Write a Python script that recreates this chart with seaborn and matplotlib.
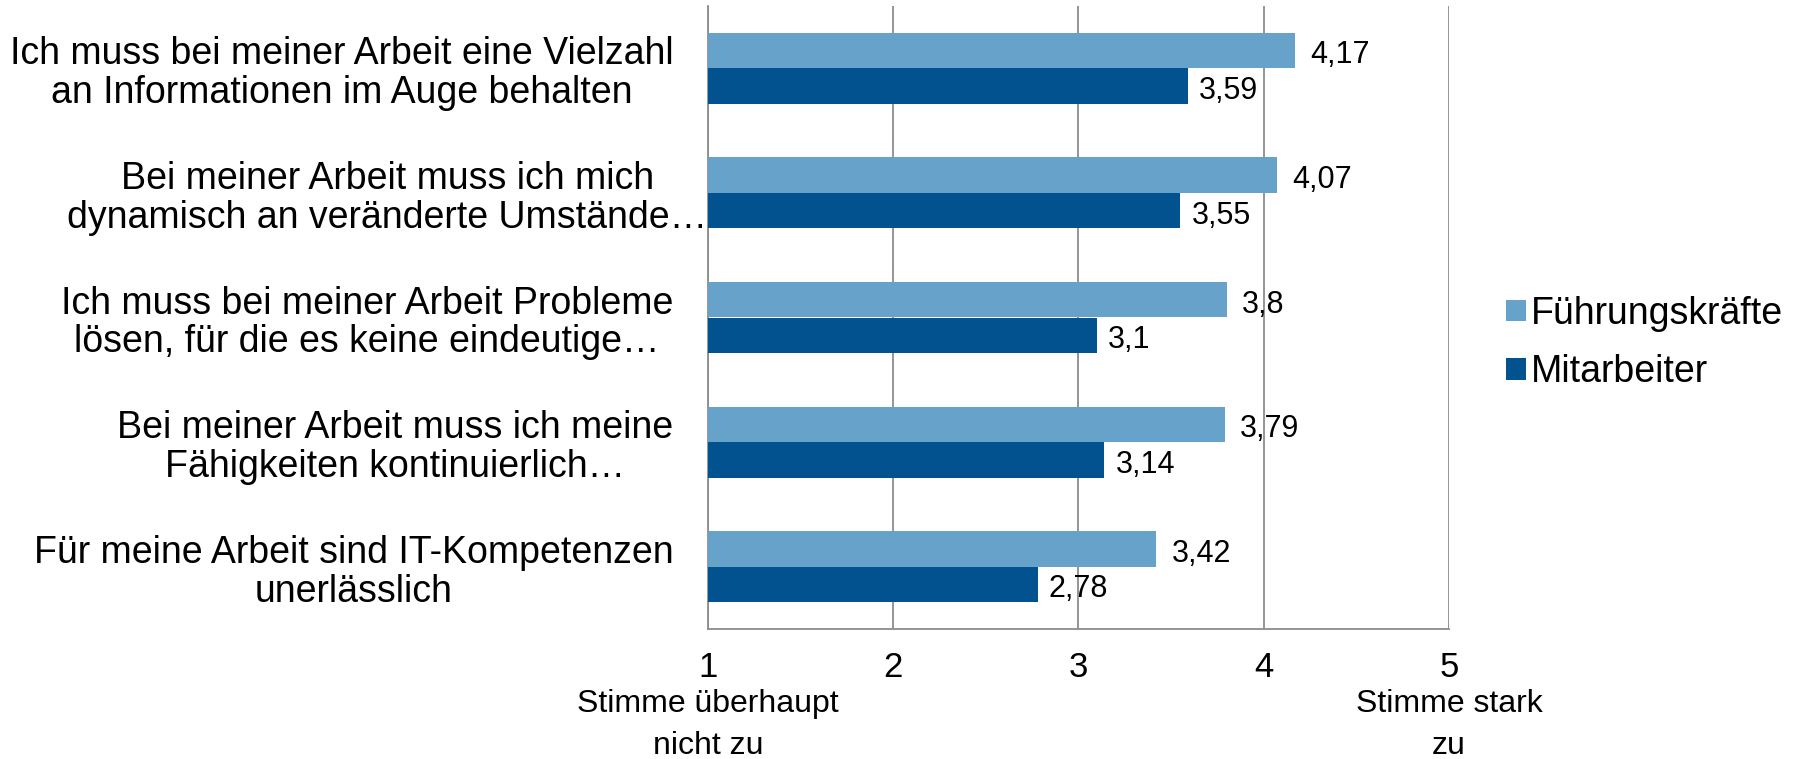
import matplotlib
matplotlib.use("Agg")
import matplotlib.pyplot as plt
import matplotlib.transforms as mtransforms
from matplotlib.patches import Patch
import seaborn as sns
import pandas as pd

# ---- data ----
categories = [
    "Ich muss bei meiner Arbeit eine Vielzahl\nan Informationen im Auge behalten",
    "Bei meiner Arbeit muss ich mich\ndynamisch an veränderte Umstände…",
    "Ich muss bei meiner Arbeit Probleme\nlösen, für die es keine eindeutige…",
    "Bei meiner Arbeit muss ich meine\nFähigkeiten kontinuierlich…",
    "Für meine Arbeit sind IT-Kompetenzen\nunerlässlich",
]
series_names = ["Führungskräfte", "Mitarbeiter"]
fuehrung = [4.17, 4.07, 3.8, 3.79, 3.42]
mitarbeiter = [3.59, 3.55, 3.1, 3.14, 2.78]
x_ticks = [1, 2, 3, 4, 5]
x_tick_labels = ["1", "2", "3", "4", "5"]
scale_low = "Stimme überhaupt\nnicht zu"
scale_high = "Stimme stark\nzu"

colors = ["#66A2CA", "#02528F"]
grid_col = "#8C8C8C"

sns.set_theme(style="white")
plt.rcParams["font.family"] = ["Liberation Sans", "DejaVu Sans"]
plt.rcParams["text.color"] = "black"
plt.rcParams["legend.labelcolor"] = "black"

df = pd.DataFrame({
    "Kategorie": categories * 2,
    "Wert": fuehrung + mitarbeiter,
    "Gruppe": [series_names[0]] * len(categories) + [series_names[1]] * len(categories),
})

W, H = 1799, 759
fig = plt.figure(figsize=(W / 100, H / 100), dpi=100)
ax = fig.add_axes([708 / W, 1 - 629 / H, (1449 - 708) / W, (629 - 6) / H])

sns.barplot(data=df, y="Kategorie", x="Wert", hue="Gruppe", hue_order=series_names,
            order=categories, orient="h", palette=colors, saturation=1,
            width=0.57, linewidth=0, legend=False, ax=ax, zorder=3)

ax.set_xlim(1, 5)
ax.set_ylim(len(categories) - 0.5, -0.5)
ax.set_xticks(x_ticks)
ax.set_xticklabels(x_tick_labels, fontsize=25)
ax.set_xlabel("")
ax.set_ylabel("")

# grid
ax.xaxis.grid(True, color=grid_col, linewidth=1.3, zorder=0)
ax.yaxis.grid(False)
for s in ["top", "right"]:
    ax.spines[s].set_visible(False)
for s in ["left", "bottom"]:
    ax.spines[s].set_color(grid_col)
    ax.spines[s].set_linewidth(1.3)

ax.tick_params(axis="x", which="major", length=6, width=1.3, color=grid_col,
               direction="out", pad=10, labelcolor="black")
ax.tick_params(axis="y", which="major", length=0, pad=25, labelsize=27, labelcolor="black")
ax.set_yticks([i - 0.5 for i in range(len(categories) + 1)], minor=True)
ax.tick_params(axis="y", which="minor", length=6, width=1.3, color=grid_col, direction="out")
for lab in ax.get_yticklabels():
    lab.set_multialignment("center")
    lab.set_linespacing(1.1)

# the second label overflows towards the axis in the reference
tick2 = ax.yaxis.get_major_ticks()[1]
tick2.label1.set_transform(tick2.label1.get_transform()
                           + mtransforms.ScaledTranslation(0.34, 0, fig.dpi_scale_trans))

# value labels
pads = [11, 8]
for cont, vals, p in zip(ax.containers, [fuehrung, mitarbeiter], pads):
    labs = [f"{v:g}".replace(".", ",") for v in vals]
    anns = ax.bar_label(cont, labels=labs, padding=p, fontsize=22, color="black")
    for a in anns:
        a.xyann = (p, -3.5)

# scale end labels
trans = mtransforms.blended_transform_factory(ax.transData, ax.transAxes)
for xv, txt in [(1, scale_low), (5, scale_high)]:
    ax.annotate(txt, xy=(xv, 0), xycoords=trans, xytext=(0, -43),
                textcoords="offset points", ha="center", va="top", fontsize=23,
                linespacing=1.52, color="black")

# legend
handles = [Patch(facecolor=c, edgecolor="none") for c in colors]
fig.legend(handles, series_names, loc="center left",
           bbox_to_anchor=(1491 / W, 1 - 343 / H), frameon=False, fontsize=27,
           handlelength=0.52, handleheight=0.52, handletextpad=0.15,
           labelspacing=0.6, borderaxespad=0, labelcolor="black")

fig.savefig("out.png", dpi=100)
